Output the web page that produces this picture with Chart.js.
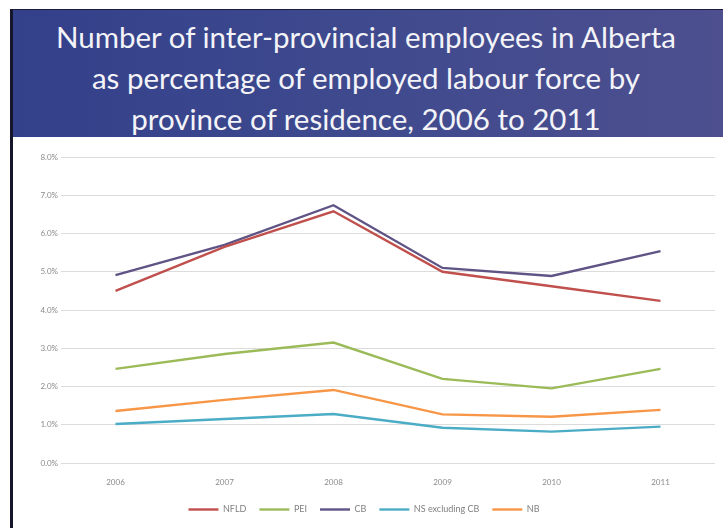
<!DOCTYPE html>
<html>
<head>
<meta charset="utf-8">
<script src="https://cdn.jsdelivr.net/npm/chart.js@4"></script>
<style>
  html, body { margin: 0; padding: 0; background: #fff; }
  #frame {
    position: absolute; left: 10px; top: 9px; width: 713px; height: 519px;
    border-left: 3px solid #16162a; border-top: 1px solid #1c1c3c;
    box-sizing: border-box; background: #fff;
  }
  #header {
    position: absolute; left: 0; top: 0; right: 0; height: 127px;
    background: linear-gradient(to right, #33408a, #3f4a8e 50%, #4d4f8f);
    color: #f4f4f8; text-align: center;
    font-family: Lato, "Open Sans", sans-serif; font-size: 29.5px; line-height: 41px;
    padding-top: 6px; padding-right: 4px; box-sizing: border-box;
  }
  #chartBox { position: absolute; left: 0; top: 127px; width: 710px; height: 391px; }
</style>
</head>
<body>
<div id="frame">
  <div id="header">Number of inter-provincial employees in Alberta<br>as percentage of employed labour force by<br>province of residence, 2006 to 2011</div>
  <div id="chartBox"><canvas id="grafica"></canvas></div>
</div>
<script>
// Años y series (porcentaje del empleo)
const years = ['2006', '2007', '2008', '2009', '2010', '2011'];
const nfld = [4.50, 5.65, 6.58, 5.00, 4.62, 4.24];
const pei = [2.46, 2.85, 3.15, 2.20, 1.95, 2.46];
const cb = [4.91, 5.70, 6.74, 5.10, 4.89, 5.54];
const nsExclCb = [1.02, 1.15, 1.28, 0.92, 0.82, 0.95];
const nb = [1.36, 1.65, 1.91, 1.27, 1.21, 1.39];
const seriesNames = ['NFLD', 'PEI', 'CB', 'NS excluding CB', 'NB'];
const seriesColors = ['#c0504d', '#9bbb59', '#5f5485', '#4bacc6', '#f79646'];

const valores = [nfld, pei, cb, nsExclCb, nb];

const datasets = seriesNames.map((name, i) => ({
    label: name,
    data: valores[i],
    borderColor: seriesColors[i],
    backgroundColor: seriesColors[i],
    borderWidth: 2.4,
    pointRadius: 0,
    tension: 0
}));

const ctx = document.getElementById('grafica').getContext('2d');
new Chart(ctx, {
    type: 'line',
    data: { labels: years, datasets: datasets },
    options: {
        responsive: true,
        maintainAspectRatio: false,
        animation: false,
        layout: { padding: { top: 20, right: 8, bottom: 4, left: 0 } },
        plugins: {
            legend: {
                position: 'bottom',
                labels: {
                    usePointStyle: true,
                    pointStyle: 'line',
                    pointStyleWidth: 30,
                    boxHeight: 2,
                    padding: 13,
                    color: '#808080',
                    font: { family: 'Lato, sans-serif', size: 9 }
                }
            },
            tooltip: { enabled: false }
        },
        scales: {
            y: {
                min: 0,
                max: 8,
                ticks: {
                    stepSize: 1,
                    color: '#8a8a8a',
                    font: { family: 'Lato, sans-serif', size: 8 },
                    callback: v => v.toFixed(1) + '%'
                },
                grid: { color: '#dcdcdc', lineWidth: 1, drawTicks: false },
                border: { display: false },
                afterFit: s => { s.width = 48; }
            },
            x: {
                offset: true,
                ticks: {
                    color: '#8a8a8a',
                    font: { family: 'Lato, sans-serif', size: 8 },
                    padding: 7
                },
                grid: { display: false },
                border: { display: false },
                afterFit: s => { s.height = 29; }
            }
        }
    }
});
</script>
</body>
</html>
